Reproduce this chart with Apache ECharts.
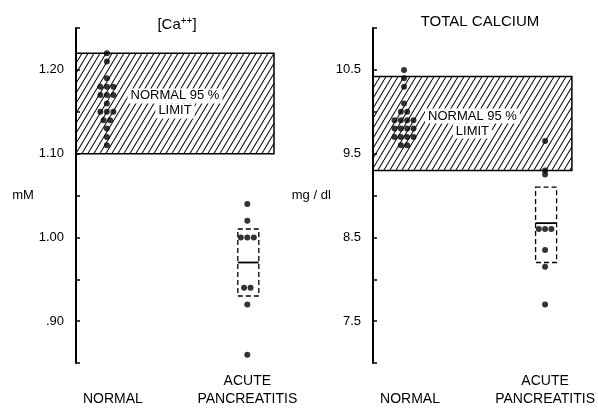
<!DOCTYPE html>
<html><head><meta charset="utf-8">
<script src="https://cdn.jsdelivr.net/npm/echarts@6/dist/echarts.min.js"></script>
<style>html,body{margin:0;padding:0;background:#fff}#c{width:598px;height:410px}</style>
</head><body><div id="c"></div>
<script>
// ---- data ----
const categories = ['NORMAL', 'ACUTE\nPANCREATITIS'];
const ionNormal = [1.22,1.21,1.19,1.18,1.18,1.18,1.17,1.17,1.17,1.16,1.15,1.15,1.15,1.14,1.14,1.13,1.12,1.11];
const ionPancreatitis = [1.04,1.02,1.00,1.00,1.00,0.94,0.94,0.92,0.86];
const ionNormalLimit = [1.10, 1.22];
const ionPancBox = [0.93, 0.97, 1.01];          // low, mean, high
const ionTickValues = [1.20, 1.10, 1.00, 0.90];
const ionTickLabels = ['1.20', '1.10', '1.00', '.90'];

const totNormal = [10.5,10.4,10.3,10.1,10.0,10.0,9.9,9.9,9.9,9.9,9.8,9.8,9.8,9.8,9.7,9.7,9.7,9.7,9.6,9.6];
const totPancreatitis = [9.65,9.3,9.25,8.6,8.6,8.6,8.35,8.15,7.7];
const totNormalLimit = [9.3, 10.42];
const totPancBox = [8.2, 8.67, 9.1];
const totTickValues = [10.5, 9.5, 8.5, 7.5];
const totTickLabels = ['10.5', '9.5', '8.5', '7.5'];

const titles = ['[Ca{sup|++}]', 'TOTAL CALCIUM'];
const units = ['mM', 'mg / dl'];
const limitText = '{w|NORMAL 95 %}\n{w|LIMIT}';

// ---- helpers ----
const INK = '#000';
const FONT = 'Liberation Sans, Arial, sans-serif';

function hatchPattern() {
  const w = 6, h = 10;
  const c = document.createElement('canvas');
  c.width = w; c.height = h;
  const g = c.getContext('2d');
  g.strokeStyle = '#111';
  g.lineWidth = 1.1;
  g.beginPath();
  g.moveTo(0, h); g.lineTo(w, 0);
  g.moveTo(-w, h); g.lineTo(0, 0);
  g.moveTo(w, h); g.lineTo(2 * w, 0);
  g.stroke();
  return c;
}
const hatch = { image: hatchPattern(), repeat: 'repeat' };

function swarm(values, cat, spacing) {
  const counts = {};
  values.forEach(v => { counts[v] = (counts[v] || 0) + 1; });
  const seen = {};
  return values.map(v => {
    const n = counts[v];
    const i = seen[v] = (seen[v] === undefined ? 0 : seen[v] + 1);
    return { value: [cat, v], symbolOffset: [(i - (n - 1) / 2) * spacing, 0] };
  });
}

function tickFmt(vals, labels) {
  return v => {
    const i = vals.findIndex(t => Math.abs(t - v) < 1e-6);
    return i < 0 ? '' : labels[i];
  };
}

function boxRender(params, api) {
  const x = api.value(0);
  const pLow = api.coord([x, api.value(1)]);
  const pMean = api.coord([x, api.value(2)]);
  const pHigh = api.coord([x, api.value(3)]);
  const hw = 10.5;
  const cx = pLow[0] + 1;
  return {
    type: 'group',
    children: [
      { type: 'rect', shape: { x: cx - hw, y: pHigh[1], width: 2 * hw, height: pLow[1] - pHigh[1] },
        style: { fill: 'none', stroke: INK, lineWidth: 1.3, lineDash: [5, 3] } },
      { type: 'line', shape: { x1: cx - hw, y1: pMean[1], x2: cx + hw, y2: pMean[1] },
        style: { stroke: INK, lineWidth: 1.8 } }
    ]
  };
}

function xAxisDef(gi) {
  return {
    gridIndex: gi, type: 'value', min: 0.78, max: 2.19,
    axisLine: { show: false }, axisTick: { show: false }, splitLine: { show: false },
    axisLabel: {
      customValues: [1, 2],
      formatter: v => Math.round(v) === 1 ? '{n|' + categories[0] + '}' : categories[Math.round(v) - 1],
      color: INK, fontFamily: FONT, fontSize: 14, lineHeight: 18,
      verticalAlign: 'bottom', margin: 45,
      rich: { n: { padding: [0, 0, 0, 12], fontSize: 14, fontFamily: FONT, color: INK } }
    }
  };
}

function yAxisDef(gi, min, max, interval, vals, labels, name) {
  return {
    gridIndex: gi, type: 'value', min, max, interval,
    name, nameLocation: 'middle', nameRotate: 0, nameGap: gi === 0 ? 38 : 35,
    nameTextStyle: { color: INK, fontFamily: FONT, fontSize: 13 },
    axisLine: { show: true, lineStyle: { color: INK, width: 2 } },
    axisTick: { show: true, inside: true, length: 4, lineStyle: { color: INK, width: 1.5 } },
    splitLine: { show: false },
    axisLabel: { formatter: tickFmt(vals, labels), color: INK, fontFamily: FONT, fontSize: 13, margin: 12, showMinLabel: true, showMaxLabel: true }
  };
}

function limitArea(range) {
  return {
    silent: true,
    itemStyle: { color: hatch, borderColor: INK, borderWidth: 1.5 },
    label: {
      show: true, position: 'inside', formatter: limitText, color: INK,
      rich: { w: { backgroundColor: '#fff', padding: [1, 3], fontSize: 13, fontFamily: FONT, color: INK, lineHeight: 15 } }
    },
    data: [[{ yAxis: range[1] }, { yAxis: range[0] }]]
  };
}

const dot = { type: 'scatter', symbol: 'circle', symbolSize: 6, itemStyle: { color: INK }, z: 5 };

const option = {
  animation: false,
  backgroundColor: '#fff',
  title: [
    { text: titles[0], left: 172, top: 11, textAlign: 'center',
      textStyle: { color: INK, fontFamily: FONT, fontSize: 15, fontWeight: 'normal',
        rich: { sup: { fontSize: 10, verticalAlign: 'top', padding: [0, 0, 8, 0], color: INK, fontFamily: FONT } } } },
    { text: titles[1], left: 475, top: 9, textAlign: 'center',
      textStyle: { color: INK, fontFamily: FONT, fontSize: 15, fontWeight: 'normal' } }
  ],
  grid: [
    { left: 76, top: 28, width: 198, height: 335 },
    { left: 373, top: 28, width: 201, height: 335 }
  ],
  xAxis: [xAxisDef(0), xAxisDef(1)],
  yAxis: [
    yAxisDef(0, 0.85, 1.25, 0.05, ionTickValues, ionTickLabels, units[0]),
    yAxisDef(1, 7.0, 11.0, 0.5, totTickValues, totTickLabels, units[1])
  ],
  series: [
    Object.assign({}, dot, { xAxisIndex: 0, yAxisIndex: 0, data: swarm(ionNormal, 1, 6.5), markArea: limitArea(ionNormalLimit) }),
    Object.assign({}, dot, { xAxisIndex: 0, yAxisIndex: 0, data: swarm(ionPancreatitis, 2, 6.5) }),
    { type: 'custom', xAxisIndex: 0, yAxisIndex: 0, renderItem: boxRender, data: [[2].concat(ionPancBox)], z: 4 },
    Object.assign({}, dot, { xAxisIndex: 1, yAxisIndex: 1, data: swarm(totNormal, 1, 6.3), markArea: limitArea(totNormalLimit) }),
    Object.assign({}, dot, { xAxisIndex: 1, yAxisIndex: 1, data: swarm(totPancreatitis, 2, 6.3) }),
    { type: 'custom', xAxisIndex: 1, yAxisIndex: 1, renderItem: boxRender, data: [[2].concat(totPancBox)], z: 4 }
  ]
};

const chart = echarts.init(document.getElementById('c'), null, { renderer: 'canvas' });
chart.setOption(option);
</script>
</body></html>
